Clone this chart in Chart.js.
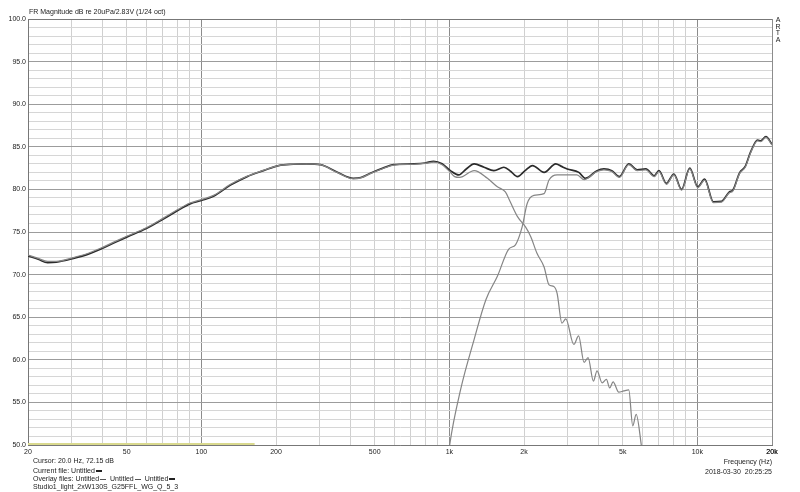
<!DOCTYPE html>
<html>
<head>
<meta charset="utf-8">
<script src="https://cdn.jsdelivr.net/npm/chart.js@4.4.0/dist/chart.umd.min.js"></script>
<style>
  html, body { margin: 0; padding: 0; background: #fff; }
  #wrap { position: relative; width: 800px; height: 492px; overflow: hidden; font-family: "Liberation Sans", Arial, sans-serif; color: #222; }
  canvas { position: absolute; left: 0; top: 0; }
  .t { position: absolute; font-size: 7px; line-height: 8px; white-space: pre; }
  .seg { display: inline-block; width: 6px; vertical-align: middle; margin-left: 1px; }
  .dark { height: 2px; background: #222; }
  .thin { height: 1px; background: #555; }
</style>
</head>
<body>
<div id="wrap">
  <canvas id="c" width="800" height="492"></canvas>
  <div class="t" style="left:29px; top:8px;">FR Magnitude dB re 20uPa/2.83V (1/24 oct)</div>
  <div class="t" style="left:775px; top:17px; line-height:6.6px; text-align:center; width:6px;">A<br>R<br>T<br>A</div>
  <div class="t" style="left:33px; top:457px;">Cursor: 20.0 Hz, 72.15 dB</div>
  <div class="t" style="left:33px; top:467px;">Current file: Untitled<span class="seg dark"></span></div>
  <div class="t" style="left:33px; top:475px;">Overlay files: Untitled<span class="seg thin"></span>  Untitled<span class="seg thin"></span>  Untitled<span class="seg dark"></span></div>
  <div class="t" style="left:33px; top:483px;">Studio1_light_2xW130S_G25FFL_WG_Q_5_3</div>
  <div class="t" style="right:28px; top:458px; text-align:right;">Frequency (Hz)</div>
  <div class="t" style="right:28px; top:468px; text-align:right;">2018-03-30  20:25:25</div>
</div>
<script>
// ---- Data (frequency in Hz, level in dB) ----
const sumFreq = [20, 22, 24, 26, 30.5, 35, 40, 45, 50, 60, 70, 80, 90, 100, 112, 131, 153, 178, 205, 235, 266, 302, 352, 410, 440, 480, 540, 596, 720, 800, 864, 935, 1010, 1092, 1170, 1259, 1380, 1512, 1660, 1770, 1883, 2020, 2164, 2410, 2686, 2830, 2988, 3328, 3540, 3940, 4200, 4520, 4850, 5290, 5720, 6200, 6700, 7000, 7500, 8040, 8640, 9320, 10040, 10700, 11600, 12500, 13460, 13900, 14800, 15600, 16400, 17500, 18000, 18900, 20000];
const sumDb   = [72.2, 71.8, 71.4, 71.45, 71.9, 72.4, 73.1, 73.8, 74.4, 75.4, 76.5, 77.5, 78.3, 78.7, 79.2, 80.5, 81.5, 82.2, 82.8, 82.95, 83.0, 82.9, 82.05, 81.3, 81.4, 81.9, 82.5, 82.9, 83.0, 83.1, 83.3, 83.0, 82.2, 81.7, 82.4, 83.0, 82.6, 82.2, 82.6, 82.1, 81.5, 82.2, 82.8, 82.0, 83.0, 82.7, 82.4, 82.0, 81.3, 82.2, 82.4, 82.2, 81.5, 83.0, 82.3, 82.4, 81.6, 82.2, 80.7, 81.8, 80.0, 82.5, 80.3, 81.2, 78.55, 78.6, 79.7, 79.9, 81.95, 82.7, 84.4, 85.8, 85.7, 86.2, 85.3];

const wooferFreq = [20, 22, 24, 26, 30.5, 35, 40, 45, 50, 60, 70, 80, 90, 100, 112, 131, 153, 178, 205, 235, 266, 302, 352, 410, 440, 480, 540, 596, 720, 800, 864, 935, 1010, 1050, 1100, 1259, 1424, 1562, 1682, 1750, 1883, 2028, 2130, 2256, 2410, 2523, 2638, 2720, 2844, 2948, 3176, 3320, 3494, 3626, 3810, 3940, 4132, 4300, 4430, 4574, 4820, 5050, 5290, 5490, 5666, 5936, 6050];
const wooferDb   = [72.3, 71.9, 71.55, 71.55, 72.0, 72.5, 73.2, 73.9, 74.5, 75.5, 76.6, 77.6, 78.4, 78.8, 79.3, 80.6, 81.55, 82.25, 82.8, 82.95, 83.0, 82.9, 82.0, 81.25, 81.35, 81.85, 82.45, 82.85, 82.95, 83.05, 83.2, 82.9, 82.0, 81.5, 81.4, 82.2, 81.3, 80.3, 79.7, 78.7, 76.8, 75.6, 74.45, 72.5, 70.9, 68.8, 68.6, 67.8, 64.3, 64.8, 61.8, 62.8, 59.7, 60.25, 57.5, 58.7, 57.3, 57.7, 56.7, 57.4, 56.2, 56.35, 56.46, 52.25, 53.6, 50.1, 48.0];

const tweeterFreq = [985, 1003, 1110, 1259, 1404, 1562, 1736, 1848, 1966, 2060, 2192, 2410, 2523, 2720, 3000, 3270, 3494, 3940, 4200, 4520, 4850, 5290, 5720, 6200, 6700, 7000, 7500, 8040, 8640, 9320, 10040, 10700, 11600, 12500, 13460, 13900, 14800, 15600, 16400, 17500, 18000, 18900, 20000];
const tweeterDb   = [48.0, 50.0, 56.5, 62.4, 67.05, 69.8, 73.0, 73.5, 75.6, 78.35, 79.3, 79.5, 81.1, 81.7, 81.7, 81.7, 81.15, 82.1, 82.3, 82.1, 81.4, 82.9, 82.2, 82.3, 81.5, 82.1, 80.6, 81.7, 79.9, 82.4, 80.2, 81.1, 78.45, 78.5, 79.6, 79.8, 81.85, 82.6, 84.3, 85.7, 85.6, 86.1, 85.2];

const markerFreq = [20, 164];
const markerDb   = [50, 50];

// ---- Ticks ----
const xTickValues = [20, 50, 100, 200, 500, 1000, 2000, 5000, 10000, 20000];
const xTickLabels = ['20', '50', '100', '200', '500', '1k', '2k', '5k', '10k', '20k'];
const yMin = 50, yMax = 100, yLabelStep = 5;

const xGrid = [];
for (const dec of [10, 100, 1000, 10000]) {
  for (let m = 1; m <= 9; m++) {
    const v = dec * m;
    if (v >= 20 && v <= 20000) xGrid.push(v);
  }
}
xGrid.push(20000);
const yGrid = [];
for (let v = yMin; v <= yMax; v++) yGrid.push(v);

const pts = (fs, ds) => fs.map((f, i) => ({ x: f, y: ds[i] }));
const isDecade = v => v === 100 || v === 1000 || v === 10000;

new Chart(document.getElementById('c').getContext('2d'), {
  type: 'line',
  data: {
    datasets: [
      { data: pts(markerFreq, markerDb), borderColor: '#d9d98e', borderWidth: 4, pointRadius: 0, clip: 0, tension: 0 },
      { data: pts(wooferFreq, wooferDb), borderColor: '#858585', borderWidth: 1.2, pointRadius: 0, cubicInterpolationMode: 'monotone' },
      { data: pts(tweeterFreq, tweeterDb), borderColor: '#858585', borderWidth: 1.2, pointRadius: 0, cubicInterpolationMode: 'monotone' },
      { data: pts(sumFreq, sumDb), borderColor: '#2b2b2b', borderWidth: 1.7, pointRadius: 0, cubicInterpolationMode: 'monotone' }
    ]
  },
  options: {
    responsive: false,
    animation: false,
    events: [],
    layout: { padding: { top: 19, right: 28, left: 0, bottom: 0 } },
    plugins: { legend: { display: false }, tooltip: { enabled: false }, title: { display: false } },
    scales: {
      x: {
        type: 'logarithmic',
        min: 20, max: 20000,
        afterBuildTicks: s => { s.ticks = xGrid.map(v => ({ value: v })); },
        afterFit: s => { s.height = 47; },
        ticks: {
          autoSkip: false, maxRotation: 0, minRotation: 0, padding: 3,
          color: '#222', font: { family: 'Liberation Sans', size: 7 },
          callback: v => { const i = xTickValues.indexOf(v); return i >= 0 ? xTickLabels[i] : ''; }
        },
        grid: {
          drawTicks: false,
          color: c => (c.tick && (isDecade(c.tick.value) || c.tick.value === 20000)) ? '#8c8c8c' : '#d0d0d0',
          lineWidth: 1
        },
        border: { color: '#777', width: 1 }
      },
      y: {
        min: yMin, max: yMax,
        afterBuildTicks: s => { s.ticks = yGrid.map(v => ({ value: v })); },
        afterFit: s => { s.width = 28; },
        ticks: {
          autoSkip: false, padding: 2,
          color: '#222', font: { family: 'Liberation Sans', size: 7 },
          callback: v => (v % yLabelStep === 0 ? v.toFixed(1) : '')
        },
        grid: {
          drawTicks: false,
          color: c => {
            if (!c.tick) return '#d6d6d6';
            if (c.tick.value === yMax) return '#777';
            return c.tick.value % yLabelStep === 0 ? '#9c9c9c' : '#d6d6d6';
          },
          lineWidth: 1
        },
        border: { color: '#777', width: 1 }
      }
    }
  }
});
</script>
</body>
</html>
